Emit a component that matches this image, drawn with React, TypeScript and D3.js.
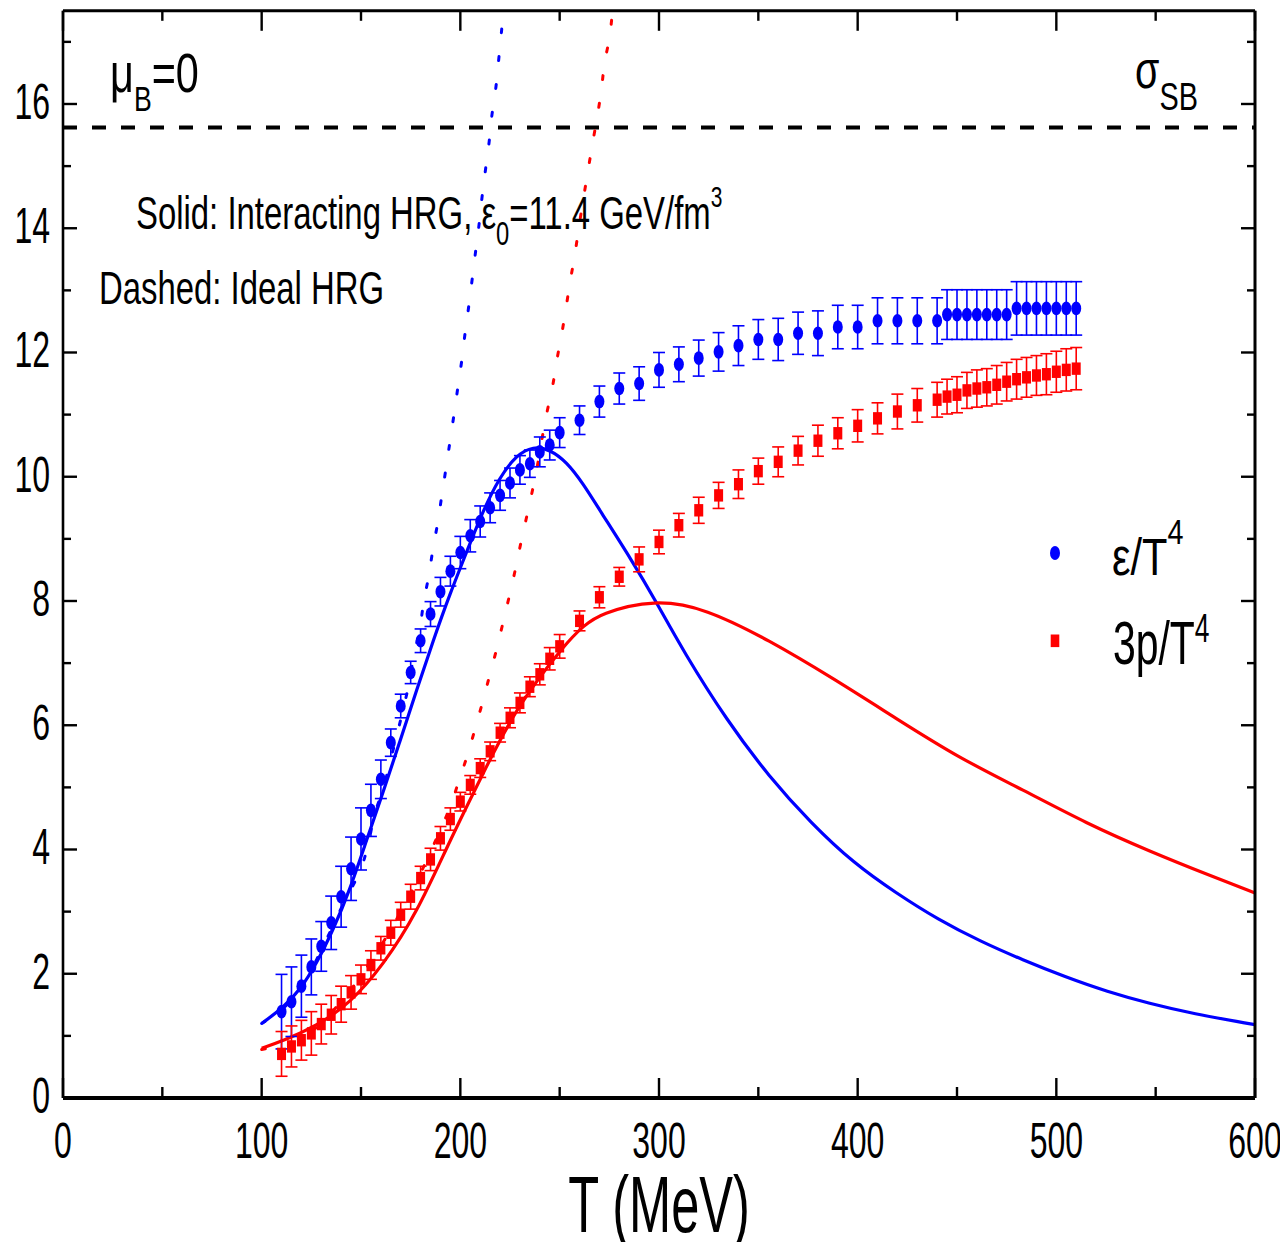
import React, { useEffect } from "react";
import * as d3 from "d3";

// ---------- data ----------
const temps = [
  110, 115, 120, 125, 130, 135, 140, 145, 150, 155, 160, 165, 170, 175, 180, 185, 190, 195, 200, 205, 210, 215, 220, 225, 230, 235, 240, 245, 250,
  260, 270, 280, 290, 300, 310, 320, 330, 340, 350, 360, 370, 380, 390, 400, 410, 420, 430, 440,
  445, 450, 455, 460, 465, 470, 475, 480, 485, 490, 495, 500, 505, 510,
];
const epsVals = [
  1.39, 1.55, 1.8, 2.11, 2.44, 2.82, 3.24, 3.69, 4.17, 4.63, 5.13, 5.72, 6.31, 6.85, 7.36, 7.79, 8.15, 8.48, 8.78, 9.05, 9.28, 9.5, 9.7, 9.9, 10.11, 10.21, 10.4, 10.51, 10.71,
  10.91, 11.21, 11.42, 11.5, 11.72, 11.81, 11.91, 12.01, 12.11, 12.21, 12.21, 12.31, 12.31, 12.41, 12.41, 12.51, 12.51, 12.51, 12.51,
  12.61, 12.61, 12.61, 12.61, 12.61, 12.61, 12.61, 12.71, 12.71, 12.71, 12.71, 12.71, 12.71, 12.71,
];
const epsErr = [
  0.6, 0.56, 0.5, 0.45, 0.4, 0.43, 0.49, 0.51, 0.5, 0.42, 0.31, 0.22, 0.19, 0.18, 0.19, 0.2, 0.23, 0.24, 0.26, 0.26, 0.25, 0.24, 0.24, 0.24, 0.23, 0.22, 0.24, 0.24, 0.24,
  0.23, 0.25, 0.25, 0.27, 0.28, 0.28, 0.29, 0.31, 0.32, 0.32, 0.34, 0.34, 0.36, 0.35, 0.35, 0.37, 0.37, 0.37, 0.37,
  0.4, 0.4, 0.4, 0.4, 0.4, 0.4, 0.4, 0.43, 0.43, 0.43, 0.43, 0.43, 0.43, 0.43,
];
const p3Vals = [
  0.71, 0.83, 0.93, 1.04, 1.19, 1.34, 1.51, 1.7, 1.91, 2.14, 2.41, 2.66, 2.95, 3.24, 3.54, 3.84, 4.18, 4.49, 4.77, 5.04, 5.31, 5.58, 5.88, 6.12, 6.36, 6.62, 6.82, 7.07, 7.27,
  7.68, 8.06, 8.39, 8.67, 8.95, 9.22, 9.46, 9.7, 9.88, 10.09, 10.24, 10.42, 10.58, 10.7, 10.82, 10.94, 11.05, 11.15, 11.24,
  11.29, 11.32, 11.39, 11.42, 11.44, 11.48, 11.53, 11.57, 11.6, 11.63, 11.65, 11.69, 11.72, 11.74,
];
const p3Err = [
  0.36, 0.33, 0.32, 0.35, 0.32, 0.31, 0.29, 0.27, 0.23, 0.23, 0.19, 0.2, 0.2, 0.2, 0.19, 0.18, 0.19, 0.18, 0.15, 0.15, 0.15, 0.15, 0.15, 0.16, 0.16, 0.16, 0.17, 0.18, 0.19,
  0.16, 0.17, 0.15, 0.2, 0.19, 0.19, 0.21, 0.21, 0.23, 0.21, 0.24, 0.23, 0.25, 0.25, 0.26, 0.25, 0.28, 0.27, 0.28,
  0.28, 0.29, 0.29, 0.3, 0.3, 0.31, 0.31, 0.32, 0.32, 0.32, 0.33, 0.33, 0.34, 0.34,
];

// Interacting HRG (solid)
const solidEpsT = [100, 110.7, 119.3, 127.7, 135.9, 144.4, 152.8, 161, 169.6, 178, 186.4, 194.8, 203.2, 211.5, 219.9, 228.3, 236.7, 245, 253.5, 261.8, 270.2, 286.2, 298, 312.8, 334.1, 355.4, 376.7, 398, 419.3, 440.6, 461.8, 483.2, 504.4, 525.7, 547, 568.3, 600];
const solidEpsV = [1.2, 1.45, 1.74, 2.17, 2.7, 3.35, 4.15, 4.91, 5.74, 6.57, 7.37, 8.12, 8.79, 9.46, 10.0, 10.35, 10.49, 10.44, 10.24, 9.89, 9.46, 8.66, 8.02, 7.16, 6.08, 5.17, 4.42, 3.78, 3.3, 2.87, 2.52, 2.22, 1.95, 1.71, 1.52, 1.36, 1.18];
const solidP3T = [100, 110.9, 127.7, 144.4, 161.2, 178, 194.8, 211.5, 228.3, 253.5, 261.8, 270.2, 297.9, 323.5, 355.4, 387.4, 419.3, 451.2, 483.2, 515.1, 547, 579, 600];
const solidP3V = [0.8, 0.92, 1.16, 1.52, 2.14, 2.97, 4.15, 5.23, 6.3, 7.34, 7.59, 7.8, 8.03, 7.88, 7.37, 6.76, 6.11, 5.47, 4.96, 4.42, 3.97, 3.56, 3.3];

// Ideal HRG (dotted)
const idealEpsT = [100, 110, 120, 130, 140, 150.3, 154, 157, 161.2, 164.6, 167.9, 174.3, 176.5, 179.5, 181.5, 184, 186.2, 188.6, 190.7, 192.8, 194.8, 196.8, 198.8, 200.8, 202.5, 204.3, 206, 207.7, 209.5, 211, 212.7, 214.5, 215.9, 217.9, 219.3, 220.7, 222];
const idealEpsV = [1.2, 1.42, 1.78, 2.38, 3.05, 3.72, 4.15, 4.58, 4.98, 5.41, 5.82, 6.69, 7.11, 7.53, 7.97, 8.39, 8.83, 9.26, 9.7, 10.14, 10.57, 11.0, 11.45, 11.89, 12.34, 12.76, 13.19, 13.63, 14.08, 14.52, 14.95, 15.39, 15.82, 16.27, 16.71, 17.16, 17.6];
const idealP3T = [100, 110, 120, 140, 160, 170, 180, 190, 195.3, 199.4, 203.7, 207.3, 211, 214.5, 217.9, 221.1, 224.3, 227.3, 230.1, 233, 235.9, 238.7, 241, 243.5, 246.4, 248.6, 251.1, 253.3, 255.5, 257.8, 259.8, 261.9, 264.2, 266.4, 268.9, 271, 272.6, 275.2, 276.6];
const idealP3V = [0.78, 0.85, 0.95, 1.55, 2.45, 3.0, 3.62, 4.32, 4.72, 5.12, 5.53, 5.93, 6.35, 6.77, 7.18, 7.6, 8.03, 8.45, 8.88, 9.3, 9.72, 10.16, 10.59, 11.02, 11.45, 11.88, 12.31, 12.74, 13.18, 13.61, 14.04, 14.47, 14.91, 15.34, 15.79, 16.23, 16.66, 17.09, 17.51];

const sigmaSB = 15.62;
const xTicksMajor = [0, 100, 200, 300, 400, 500, 600];
const xTicksMinor = [50, 150, 250, 350, 450, 550];
const yTicksMajor = [0, 2, 4, 6, 8, 10, 12, 14, 16];
const yTicksMinor = [1, 3, 5, 7, 9, 11, 13, 15, 17];

const FONT = "'Liberation Sans', Arial, Helvetica, sans-serif";
const BLUE = "#0000ff";
const RED = "#ff0000";

const L = 63, R = 1255, TOP = 10.8, BOT = 1098;

function CText(props: { x: number; y: number; sx: number; size: number; anchor?: string; children: any; fill?: string }) {
  return (
    <text
      transform={`translate(${props.x},${props.y}) scale(${props.sx},1)`}
      fontSize={props.size}
      textAnchor={props.anchor || "start"}
      fontFamily={FONT}
      fill={props.fill || "#000"}
    >
      {props.children}
    </text>
  );
}

export default function App() {
  useEffect(() => {
    document.body.style.margin = "0";
  }, []);

  const x = d3.scaleLinear().domain([0, 600]).range([L, R]);
  const y = d3.scaleLinear().domain([0, 17.5]).range([BOT, TOP]);

  const mk = (ts: number[], vs: number[], curve: any) =>
    d3
      .line<number>()
      .x((_, i) => x(ts[i]))
      .y((v) => y(v))
      .curve(curve)(vs) as string;

  const capW = 6;

  return (
    <svg width={1280} height={1242} style={{ display: "block", position: "absolute", left: 0, top: 0 }}>
      <rect x={0} y={0} width={1280} height={1242} fill="#fff" />
      <defs>
        <clipPath id="plot">
          <rect x={L} y={TOP} width={R - L} height={BOT - TOP} />
        </clipPath>
      </defs>

      {/* SB limit */}
      <line x1={L} x2={R} y1={y(sigmaSB)} y2={y(sigmaSB)} stroke="#000" strokeWidth={4} strokeDasharray="14 15" />

      <g clipPath="url(#plot)" fill="none">
        <path d={mk(idealEpsT, idealEpsV, d3.curveCatmullRom.alpha(0.5))} stroke={BLUE} strokeWidth={3} strokeDasharray="4 24" strokeLinecap="round" />
        <path d={mk(idealP3T, idealP3V, d3.curveCatmullRom.alpha(0.5))} stroke={RED} strokeWidth={3} strokeDasharray="4 24" strokeLinecap="round" />
        <path d={mk(solidEpsT, solidEpsV, d3.curveBasis)} stroke={BLUE} strokeWidth={3.2} />
        <path d={mk(solidP3T, solidP3V, d3.curveBasis)} stroke={RED} strokeWidth={3.2} />
      </g>

      {/* error bars */}
      <g strokeWidth={1.6}>
        {temps.map((t, i) => (
          <g key={"eb" + i} stroke={BLUE}>
            <line x1={x(t)} x2={x(t)} y1={y(epsVals[i] - epsErr[i])} y2={y(epsVals[i] + epsErr[i])} />
            <line x1={x(t) - capW} x2={x(t) + capW} y1={y(epsVals[i] + epsErr[i])} y2={y(epsVals[i] + epsErr[i])} />
            <line x1={x(t) - capW} x2={x(t) + capW} y1={y(epsVals[i] - epsErr[i])} y2={y(epsVals[i] - epsErr[i])} />
          </g>
        ))}
        {temps.map((t, i) => (
          <g key={"rb" + i} stroke={RED}>
            <line x1={x(t)} x2={x(t)} y1={y(p3Vals[i] - p3Err[i])} y2={y(p3Vals[i] + p3Err[i])} />
            <line x1={x(t) - capW} x2={x(t) + capW} y1={y(p3Vals[i] + p3Err[i])} y2={y(p3Vals[i] + p3Err[i])} />
            <line x1={x(t) - capW} x2={x(t) + capW} y1={y(p3Vals[i] - p3Err[i])} y2={y(p3Vals[i] - p3Err[i])} />
          </g>
        ))}
      </g>
      {temps.map((t, i) => (
        <ellipse key={"e" + i} cx={x(t)} cy={y(epsVals[i])} rx={5} ry={6.8} fill={BLUE} />
      ))}
      {temps.map((t, i) => (
        <rect key={"p" + i} x={x(t) - 4.5} y={y(p3Vals[i]) - 6.2} width={9} height={12.4} fill={RED} />
      ))}

      {/* frame */}
      <g stroke="#000" fill="none">
        <line x1={L} x2={R} y1={BOT} y2={BOT} strokeWidth={4} />
        <line x1={L} x2={R} y1={TOP} y2={TOP} strokeWidth={3} />
        <line x1={L} x2={L} y1={TOP} y2={BOT} strokeWidth={2.6} />
        <line x1={R} x2={R} y1={TOP} y2={BOT} strokeWidth={3} />
        {xTicksMajor.map((t) => (
          <g key={"xm" + t} strokeWidth={2.4}>
            <line x1={x(t)} x2={x(t)} y1={BOT} y2={BOT - 20} />
            <line x1={x(t)} x2={x(t)} y1={TOP} y2={TOP + 20} />
          </g>
        ))}
        {xTicksMinor.map((t) => (
          <g key={"xn" + t} strokeWidth={2.4}>
            <line x1={x(t)} x2={x(t)} y1={BOT} y2={BOT - 11} />
            <line x1={x(t)} x2={x(t)} y1={TOP} y2={TOP + 10} />
          </g>
        ))}
        {yTicksMajor.map((v) => (
          <g key={"ym" + v} strokeWidth={2.4}>
            <line x1={L} x2={L + 14} y1={y(v)} y2={y(v)} />
            <line x1={R} x2={R - 14} y1={y(v)} y2={y(v)} />
          </g>
        ))}
        {yTicksMinor.map((v) => (
          <g key={"yn" + v} strokeWidth={2.4}>
            <line x1={L} x2={L + 8} y1={y(v)} y2={y(v)} />
            <line x1={R} x2={R - 8} y1={y(v)} y2={y(v)} />
          </g>
        ))}
      </g>

      {/* tick labels */}
      {xTicksMajor.map((t) => (
        <CText key={"xl" + t} x={x(t)} y={1158} sx={0.64} size={50} anchor="middle">
          {String(t)}
        </CText>
      ))}
      {yTicksMajor.map((v) => (
        <CText key={"yl" + v} x={50} y={y(v) + 15} sx={0.64} size={50} anchor="end">
          {String(v)}
        </CText>
      ))}

      {/* axis title */}
      <CText x={659} y={1232} sx={0.64} size={79} anchor="middle">
        T (MeV)
      </CText>

      {/* annotations */}
      <CText x={110} y={92} sx={0.74} size={56}>
        μ<tspan fontSize={36} dy={19}>B</tspan>
        <tspan dy={-19}>=0</tspan>
      </CText>
      <CText x={1135} y={88} sx={0.76} size={52}>
        σ<tspan fontSize={38} dy={22}>SB</tspan>
      </CText>
      <CText x={136} y={229} sx={0.7} size={47}>
        Solid: Interacting HRG, ε<tspan fontSize={34} dy={16}>0</tspan>
        <tspan dy={-16}>=11.4 GeV/fm</tspan>
        <tspan fontSize={30} dy={-22}>3</tspan>
      </CText>
      <CText x={99} y={304} sx={0.7} size={47}>
        Dashed: Ideal HRG
      </CText>

      {/* legend */}
      <ellipse cx={1055} cy={553} rx={5} ry={7} fill={BLUE} />
      <rect x={1050.7} y={634.5} width={8.6} height={12.6} fill={RED} />
      <CText x={1112} y={575} sx={0.8} size={52}>
        ε/T<tspan fontSize={36} dy={-31}>4</tspan>
      </CText>
      <CText x={1113} y={664} sx={0.66} size={62}>
        3p/T<tspan fontSize={40} dy={-22}>4</tspan>
      </CText>
    </svg>
  );
}
